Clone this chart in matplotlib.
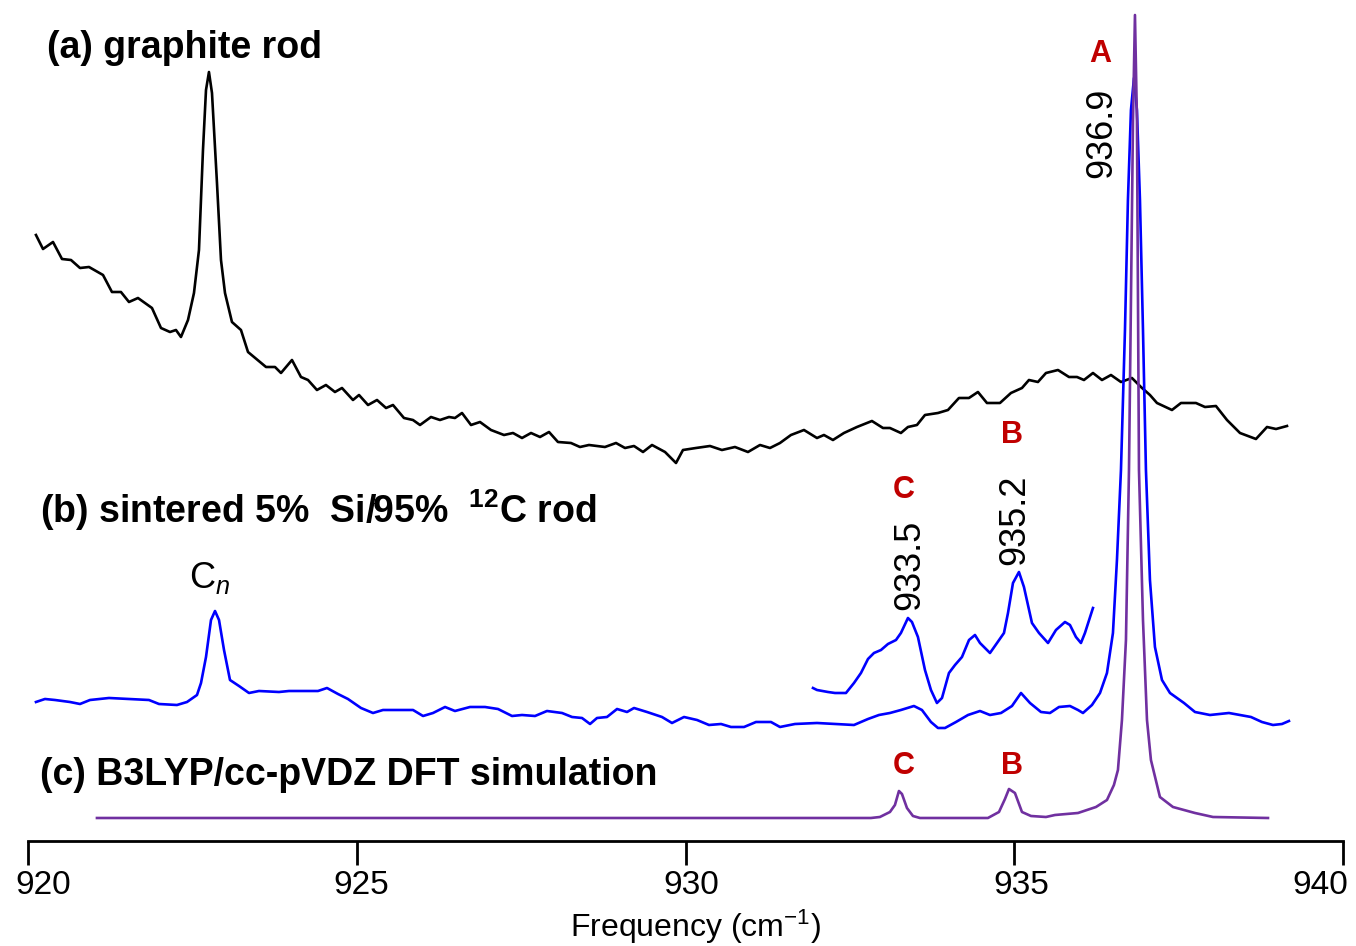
import matplotlib
matplotlib.use("Agg")
import matplotlib.pyplot as plt
import matplotlib.transforms as mtransforms
import numpy as np

plt.rcParams['font.family'] = ['Liberation Sans', 'DejaVu Sans']
plt.rcParams['mathtext.fontset'] = 'custom'
plt.rcParams['mathtext.rm'] = 'Liberation Sans'
plt.rcParams['mathtext.it'] = 'Liberation Sans:italic'
plt.rcParams['mathtext.bf'] = 'Liberation Sans:bold'
plt.rcParams['mathtext.default'] = 'regular'

# ---------------- spectra (frequency in cm^-1, absorbance in arb. units) ----
# (a) graphite rod
freq_a = [920.114, 920.221, 920.373, 920.510, 920.647, 920.784, 920.921, 921.134,
          921.270, 921.407, 921.529, 921.666, 921.879, 922.016, 922.153, 922.244,
          922.320, 922.427, 922.518, 922.594, 922.655, 922.701, 922.746, 922.792,
          922.868, 922.929, 922.990, 923.096, 923.233, 923.340, 923.431, 923.614,
          923.751, 923.842, 924.009, 924.146, 924.253, 924.389, 924.526, 924.663,
          924.770, 924.937, 925.029, 925.166, 925.303, 925.440, 925.546, 925.713,
          925.850, 925.957, 926.124, 926.261, 926.398, 926.489, 926.596, 926.733,
          926.870, 927.037, 927.235, 927.372, 927.509, 927.646, 927.783, 927.920,
          928.056, 928.254, 928.391, 928.528, 928.771, 928.939, 929.076, 929.213,
          929.350, 929.487, 929.685, 929.852, 929.958, 930.156, 930.369, 930.551,
          930.749, 930.947, 931.130, 931.282, 931.434, 931.601, 931.799, 931.997,
          932.103, 932.240, 932.407, 932.605, 932.833, 933.001, 933.107, 933.274,
          933.381, 933.518, 933.640, 933.838, 933.990, 934.157, 934.309, 934.446,
          934.583, 934.781, 934.948, 935.116, 935.222, 935.359, 935.481, 935.664,
          935.831, 935.953, 936.059, 936.196, 936.333, 936.470, 936.622, 936.789,
          936.926, 937.063, 937.170, 937.398, 937.535, 937.763, 937.900, 938.067,
          938.235, 938.433, 938.676, 938.844, 938.981, 939.148]
abs_a = [2.25, 2.11, 2.18, 2.01, 2.00, 1.92, 1.93, 1.85,
         1.68, 1.68, 1.58, 1.62, 1.52, 1.32, 1.28, 1.30,
         1.23, 1.40, 1.67, 2.10, 3.10, 3.70, 3.88, 3.67,
         2.77, 2.00, 1.67, 1.38, 1.30, 1.08, 1.03, 0.93,
         0.93, 0.87, 1.00, 0.83, 0.80, 0.70, 0.75, 0.68,
         0.72, 0.60, 0.65, 0.55, 0.60, 0.52, 0.55, 0.42,
         0.40, 0.35, 0.43, 0.40, 0.43, 0.42, 0.47, 0.35,
         0.38, 0.30, 0.25, 0.27, 0.22, 0.27, 0.23, 0.28,
         0.18, 0.17, 0.13, 0.15, 0.13, 0.17, 0.12, 0.14,
         0.08, 0.15, 0.08, -0.03, 0.10, 0.12, 0.14, 0.10,
         0.13, 0.08, 0.15, 0.12, 0.17, 0.25, 0.30, 0.22,
         0.25, 0.20, 0.27, 0.33, 0.39, 0.32, 0.32, 0.27,
         0.33, 0.35, 0.45, 0.47, 0.50, 0.62, 0.62, 0.68,
         0.57, 0.57, 0.67, 0.72, 0.80, 0.78, 0.87, 0.90,
         0.83, 0.83, 0.80, 0.87, 0.80, 0.85, 0.78, 0.82,
         0.73, 0.65, 0.57, 0.50, 0.57, 0.57, 0.53, 0.54,
         0.40, 0.27, 0.21, 0.33, 0.31, 0.34]

# (b) sintered 5% Si / 95% 12C rod
freq_b = [920.114, 920.251, 920.403, 920.631, 920.784, 920.936, 921.225, 921.529,
          921.833, 921.986, 922.259, 922.412, 922.564, 922.625, 922.701, 922.777,
          922.838, 922.899, 922.975, 923.066, 923.203, 923.355, 923.507, 923.811,
          923.964, 924.253, 924.405, 924.542, 924.709, 924.861, 925.059, 925.242,
          925.394, 925.851, 926.003, 926.155, 926.338, 926.489, 926.718, 926.946,
          927.144, 927.357, 927.509, 927.707, 927.889, 928.118, 928.270, 928.422,
          928.544, 928.650, 928.802, 928.955, 929.107, 929.213, 929.411, 929.639,
          929.791, 929.974, 930.172, 930.354, 930.537, 930.689, 930.887, 931.069,
          931.297, 931.434, 931.662, 931.997, 932.560, 932.773, 932.940, 933.107,
          933.274, 933.472, 933.594, 933.731, 933.838, 933.945, 934.112, 934.295,
          934.477, 934.629, 934.797, 934.964, 935.101, 935.238, 935.405, 935.542,
          935.679, 935.846, 935.968, 936.044, 936.181, 936.303, 936.409, 936.500,
          936.561, 936.622, 936.683, 936.728, 936.774, 936.820, 936.865, 936.911,
          936.957, 937.002, 937.063, 937.139, 937.246, 937.368, 937.581, 937.748,
          937.976, 938.265, 938.433, 938.600, 938.767, 938.935, 939.072, 939.178]
abs_b = [0.28, 0.31, 0.30, 0.28, 0.26, 0.30, 0.32, 0.31,
         0.30, 0.26, 0.25, 0.28, 0.35, 0.47, 0.73, 1.10,
         1.19, 1.10, 0.80, 0.50, 0.44, 0.37, 0.39, 0.38,
         0.39, 0.39, 0.39, 0.42, 0.36, 0.31, 0.22, 0.17,
         0.20, 0.20, 0.14, 0.17, 0.23, 0.19, 0.23, 0.23,
         0.21, 0.14, 0.15, 0.14, 0.19, 0.17, 0.13, 0.12,
         0.06, 0.12, 0.13, 0.21, 0.18, 0.22, 0.18, 0.13,
         0.07, 0.13, 0.10, 0.05, 0.06, 0.03, 0.03, 0.08,
         0.08, 0.03, 0.06, 0.07, 0.05, 0.11, 0.15, 0.17,
         0.20, 0.24, 0.20, 0.08, 0.02, 0.02, 0.08, 0.15,
         0.19, 0.15, 0.17, 0.24, 0.37, 0.27, 0.18, 0.17,
         0.23, 0.24, 0.20, 0.17, 0.25, 0.37, 0.57, 0.97,
         1.70, 2.60, 4.00, 5.30, 6.20, 6.52, 6.20, 5.30,
         4.00, 2.60, 1.50, 0.83, 0.50, 0.37, 0.27, 0.18,
         0.15, 0.17, 0.15, 0.13, 0.08, 0.05, 0.06, 0.09]

# (b) expanded view of the 932-936 cm^-1 region
freq_bx = [931.936, 931.997, 932.164, 932.271, 932.438, 932.560, 932.666, 932.773,
           932.864, 932.971, 933.077, 933.199, 933.274, 933.381, 933.442, 933.533,
           933.640, 933.731, 933.822, 933.899, 934.005, 934.097, 934.203, 934.310,
           934.401, 934.477, 934.629, 934.736, 934.842, 934.903, 934.979, 935.070,
           935.146, 935.268, 935.375, 935.512, 935.633, 935.770, 935.846, 935.937,
           936.013, 936.074, 936.196]
abs_bx = [0.17, 0.15, 0.13, 0.12, 0.12, 0.22, 0.32, 0.46,
          0.52, 0.55, 0.61, 0.65, 0.72, 0.87, 0.83, 0.68,
          0.35, 0.15, 0.02, 0.07, 0.32, 0.40, 0.48, 0.65,
          0.70, 0.62, 0.52, 0.62, 0.72, 0.92, 1.22, 1.33,
          1.18, 0.82, 0.72, 0.62, 0.75, 0.83, 0.80, 0.68,
          0.62, 0.72, 0.97]

# (c) B3LYP/cc-pVDZ simulated spectrum
freq_c = [921.042, 932.817, 932.954, 933.107, 933.183, 933.244, 933.290, 933.366,
          933.457, 933.564, 934.598, 934.766, 934.857, 934.918, 935.009, 935.116,
          935.253, 935.481, 935.618, 935.968, 936.242, 936.409, 936.515, 936.576,
          936.637, 936.698, 936.744, 936.774, 936.805, 936.835, 936.865, 936.881,
          936.896, 936.957, 937.018, 937.078, 937.215, 937.413, 937.748, 938.022,
          938.859]
abs_c = [0.00, 0.00, 0.01, 0.06, 0.13, 0.27, 0.24, 0.10,
         0.02, 0.00, 0.00, 0.06, 0.19, 0.29, 0.25, 0.06,
         0.02, 0.01, 0.03, 0.05, 0.11, 0.18, 0.33, 0.48,
         0.98, 1.78, 3.48, 5.18, 6.98, 8.03, 6.98, 5.18,
         3.48, 1.98, 0.98, 0.58, 0.21, 0.11, 0.05, 0.01,
         0.00]

tick_values = [920, 925, 930, 935, 940]

# vertical stacking offsets of each trace
offset_a = 3.81
offset_b = 1.11
offset_bx = 1.36
offset_c = 0.23

BLACK = '#000000'
BLUE = '#0000FF'
PURPLE = '#7030A0'
RED = '#C00000'

fig = plt.figure(figsize=(13.56, 9.46), dpi=100)
ax = fig.add_axes([0.0210, 0.111, 0.9694, 0.889])

ax.plot(freq_a, np.asarray(abs_a) + offset_a, color=BLACK, lw=1.9)
ax.plot(freq_b, np.asarray(abs_b) + offset_b, color=BLUE, lw=1.9)
ax.plot(freq_bx, np.asarray(abs_bx) + offset_bx, color=BLUE, lw=1.9)
ax.plot(freq_c, np.asarray(abs_c) + offset_c, color=PURPLE, lw=1.9)

ax.set_xlim(920, 940)
ax.set_ylim(0, 8.41)
for side in ('left', 'right', 'top'):
    ax.spines[side].set_visible(False)
ax.spines['bottom'].set_linewidth(2.0)
ax.set_yticks([])
ax.set_xticks(tick_values)
ax.tick_params(axis='x', direction='out', length=17, width=2.0,
               labelsize=24, pad=4)

# nudge the end labels inward so they stay on the canvas
label_shift_px = [15, 4, 6, 7, -23]
for lbl, dx in zip(ax.get_xticklabels(), label_shift_px):
    lbl.set_transform(lbl.get_transform() +
                      mtransforms.ScaledTranslation(dx / 100, 0, fig.dpi_scale_trans))

ax.set_xlabel('Frequency (cm$^{-1}$)', fontsize=23, labelpad=5)
ax.xaxis.label.set_x(0.507)

# panel titles
title_font = dict(fontsize=27, fontweight='bold', ha='left', va='center')
ax.text(920.28, 7.93, '(a) graphite rod', **title_font)
ax.text(920.17, 3.31, '(b) sintered 5%  Si/95%  $^{12}$C rod', **title_font)
ax.text(920.17, 0.66, '(c) B3LYP/cc-pVDZ DFT simulation', **title_font)

# peak positions
num_font = dict(fontsize=26, rotation=90, ha='center', va='center')
ax.text(936.33, 7.08, '936.9', **num_font)
ax.text(933.41, 2.76, '933.5', **num_font)
ax.text(935.01, 3.21, '935.2', **num_font)

# band assignments
lab_font = dict(fontsize=22, fontweight='bold', color=RED,
                ha='center', va='center')
ax.text(936.30, 7.87, 'A', **lab_font)
ax.text(934.96, 4.06, 'B', **lab_font)
ax.text(933.31, 3.51, 'C', **lab_font)
ax.text(933.31, 0.75, 'C', **lab_font)
ax.text(934.96, 0.75, 'B', **lab_font)

ax.text(922.76, 2.63, 'C$_{\\mathit{n}}$', fontsize=26, ha='center', va='center')

fig.savefig('out.png', dpi=100)
